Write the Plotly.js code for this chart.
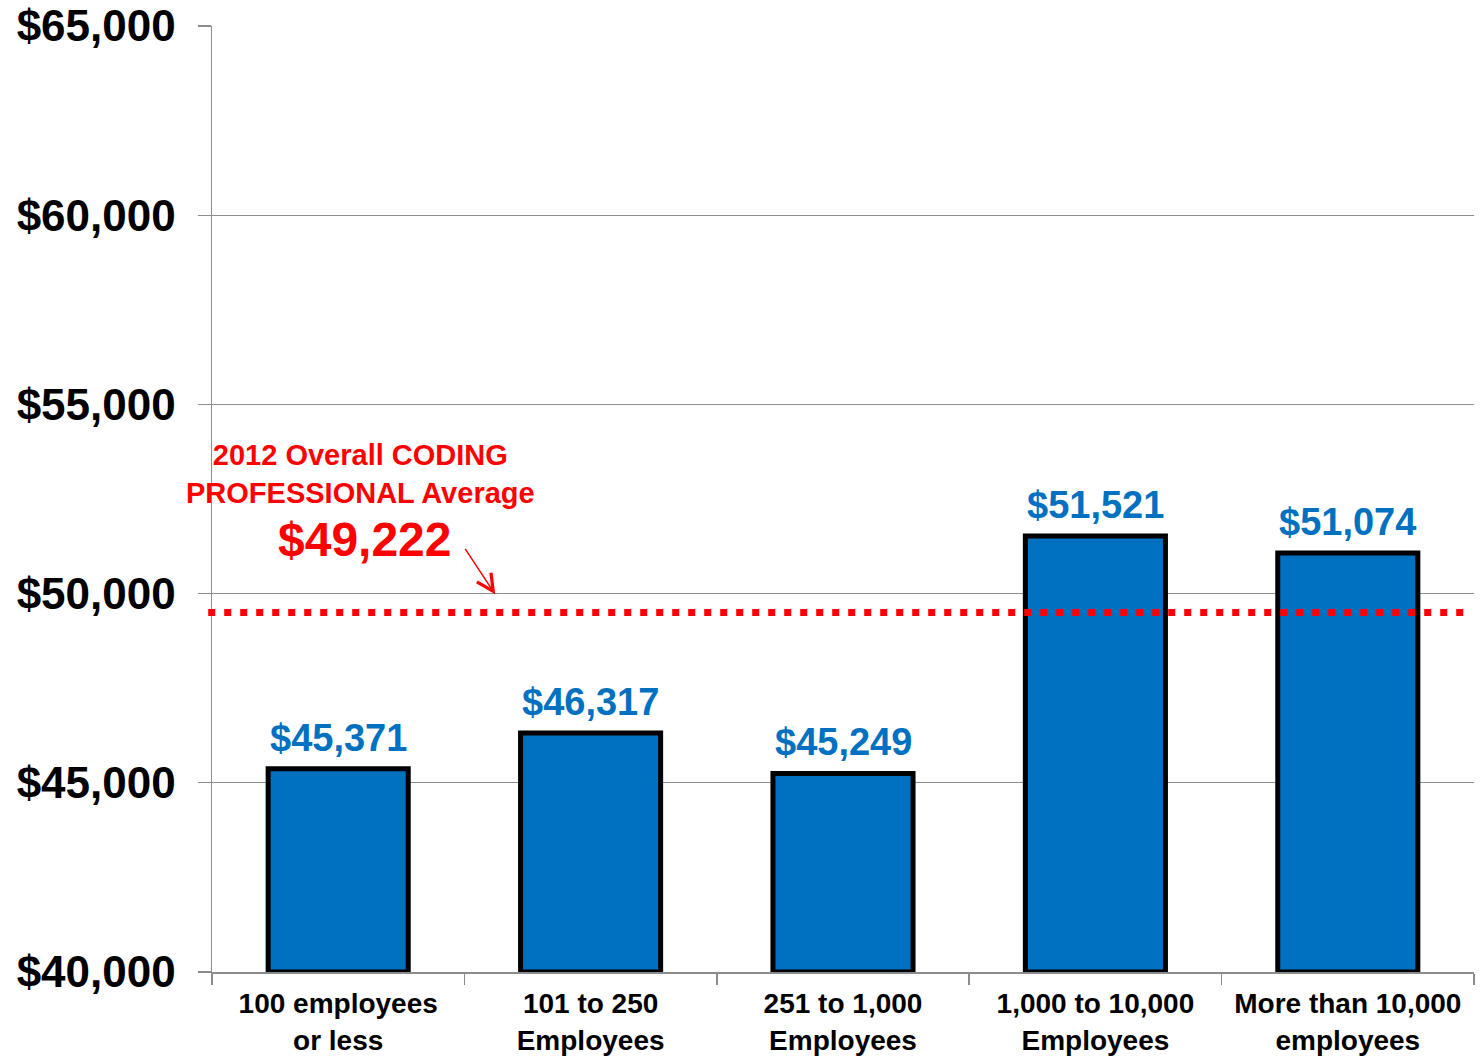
<!DOCTYPE html>
<html>
<head>
<meta charset="utf-8">
<script src="https://cdn.plot.ly/plotly-3.0.1.min.js"></script>
<style>html,body{margin:0;padding:0;background:#fff;}#chart{width:1480px;height:1061px;}</style>
</head>
<body>
<div id="chart"></div>
<script>
// ---- data ----
const categories = [
  "100 employees<br>or less",
  "101 to 250<br>Employees",
  "251 to 1,000<br>Employees",
  "1,000 to 10,000<br>Employees",
  "More than 10,000<br>employees"
];
const salaries = [45371, 46317, 45249, 51521, 51074];
const overallAverage = 49222;          // value printed in the callout
const averageLineLevel = 49500;        // level at which the dotted line is drawn in the picture
const yTickValues = [40000, 45000, 50000, 55000, 60000, 65000];
const axisMin = 40000, axisMax = 65000;

const FONT = "Liberation Sans, Arial, sans-serif";
const BLUE = "#0070C0";
const RED = "#FF0000";

const fmt = v => "$" + v.toLocaleString("en-US");

const bars = {
  type: "bar",
  x: categories,
  y: salaries.map(v => v - axisMin),
  base: axisMin,
  width: 0.555,
  marker: { color: BLUE, line: { color: "#000", width: 5 } },
  hoverinfo: "skip",
  cliponaxis: false
};

const valueLabels = categories.map((c, i) => ({
  x: c, y: salaries[i], xref: "x", yref: "y",
  text: fmt(salaries[i]), showarrow: false,
  yanchor: "bottom", yshift: 8,
  font: { family: FONT, size: 38, color: BLUE, weight: "bold" }
}));

const layout = {
  width: 1480, height: 1061,
  margin: { l: 212, r: 6, t: 26, b: 89 },
  paper_bgcolor: "#fff", plot_bgcolor: "#fff",
  showlegend: false,
  bargap: 0.445,
  xaxis: {
    type: "category",
    range: [-0.5, categories.length - 0.5],
    showgrid: false,
    showline: true, linecolor: "#8c8c8c", linewidth: 1.5,
    ticks: "outside", tickson: "boundaries", ticklen: 11, tickcolor: "#8c8c8c", tickwidth: 1.5,
    tickangle: 0,
    tickfont: { family: FONT, size: 28, color: "#000", weight: "bold" },
    ticklabelstandoff: 6,
    fixedrange: true
  },
  yaxis: {
    range: [axisMin, axisMax],
    tickmode: "array",
    tickvals: yTickValues,
    ticktext: yTickValues.map(fmt),
    showgrid: true, gridcolor: "#8c8c8c", gridwidth: 1.3,
    showline: true, linecolor: "#8c8c8c", linewidth: 1.5,
    ticks: "outside", ticklen: 13, tickcolor: "#8c8c8c", tickwidth: 1.3,
    tickfont: { family: FONT, size: 44, color: "#000", weight: "bold" },
    ticklabelstandoff: 13,
    zeroline: false,
    fixedrange: true
  },
  shapes: [{
    type: "line", xref: "paper", yref: "y",
    x0: -0.003, x1: 0.994, y0: averageLineLevel, y1: averageLineLevel,
    line: { color: RED, width: 7, dash: "7px,9px" }
  }],
  annotations: valueLabels.concat([
    {
      x: 0.087, y: 53150, xref: "x", yref: "y",
      text: "2012 Overall CODING<br>PROFESSIONAL Average",
      showarrow: false, align: "center",
      font: { family: FONT, size: 29, color: RED, weight: "bold" }
    },
    {
      x: 0.107, y: 51430, xref: "x", yref: "y",
      text: fmt(overallAverage),
      showarrow: false,
      font: { family: FONT, size: 48, color: RED, weight: "bold" }
    },
    {
      x: 0.622, y: 49980, xref: "x", yref: "y",
      ax: -31, ay: -47, text: "",
      showarrow: true, arrowhead: 5, arrowsize: 2.2, arrowwidth: 1.5, arrowcolor: RED
    }
  ])
};

Plotly.newPlot("chart", [bars], layout, { staticPlot: true, displayModeBar: false });
</script>
</body>
</html>
